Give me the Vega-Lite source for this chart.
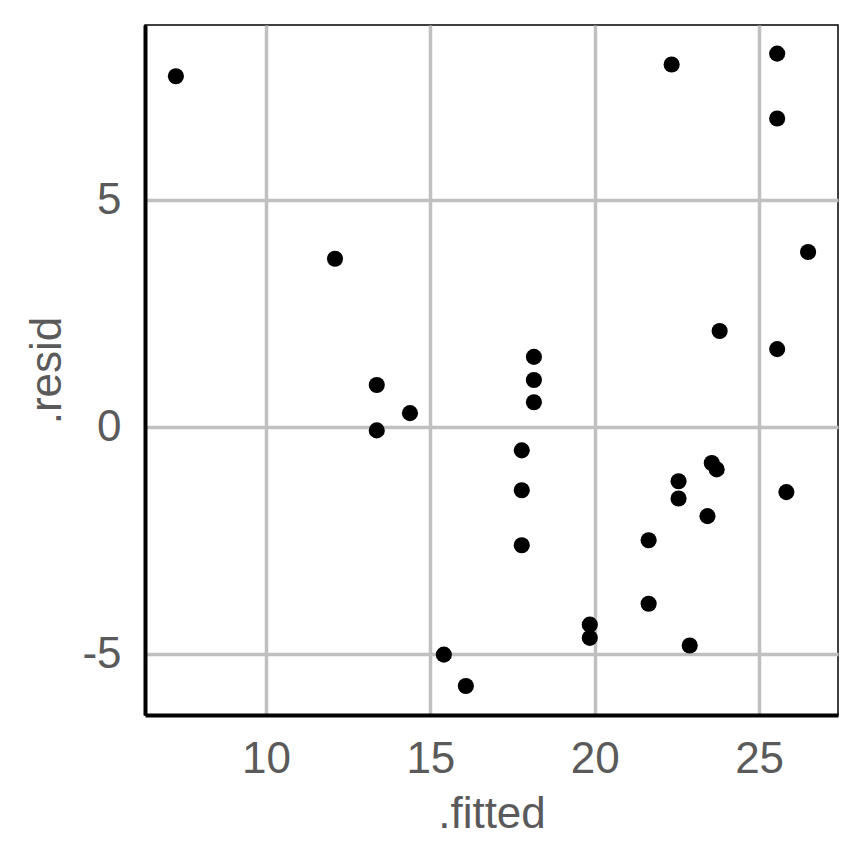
{
  "$schema": "https://vega.github.io/schema/vega-lite/v6.json",
  "description": "Residuals against fitted values.",
  "autosize": "none",
  "padding": {"left": 145, "top": 25, "right": 26, "bottom": 149},
  "width": 693,
  "height": 690,
  "data": {
    "values": [
      {"fitted": 7.26, "resid": 7.73},
      {"fitted": 12.10, "resid": 3.71},
      {"fitted": 13.37, "resid": 0.93},
      {"fitted": 13.37, "resid": -0.07},
      {"fitted": 14.38, "resid": 0.31},
      {"fitted": 15.41, "resid": -5.01},
      {"fitted": 16.08, "resid": -5.70},
      {"fitted": 17.78, "resid": -0.51},
      {"fitted": 17.78, "resid": -1.39},
      {"fitted": 17.78, "resid": -2.60},
      {"fitted": 18.15, "resid": 1.55},
      {"fitted": 18.15, "resid": 1.04},
      {"fitted": 18.15, "resid": 0.55},
      {"fitted": 19.85, "resid": -4.35},
      {"fitted": 19.85, "resid": -4.64},
      {"fitted": 21.64, "resid": -2.49},
      {"fitted": 21.64, "resid": -3.89},
      {"fitted": 22.34, "resid": 7.99},
      {"fitted": 22.55, "resid": -1.19},
      {"fitted": 22.55, "resid": -1.57},
      {"fitted": 22.89, "resid": -4.81},
      {"fitted": 23.43, "resid": -1.96},
      {"fitted": 23.56, "resid": -0.79},
      {"fitted": 23.71, "resid": -0.93},
      {"fitted": 23.80, "resid": 2.12},
      {"fitted": 25.55, "resid": 8.23},
      {"fitted": 25.55, "resid": 6.80},
      {"fitted": 25.55, "resid": 1.72},
      {"fitted": 25.83, "resid": -1.43},
      {"fitted": 26.49, "resid": 3.86}
    ]
  },
  "mark": {"type": "circle", "size": 260, "color": "black", "opacity": 1},
  "encoding": {
    "x": {
      "field": "fitted",
      "type": "quantitative",
      "title": ".fitted",
      "scale": {"domain": [6.32, 27.40], "nice": false, "zero": false},
      "axis": {"values": [10, 15, 20, 25], "labelPadding": 22, "titlePadding": 11}
    },
    "y": {
      "field": "resid",
      "type": "quantitative",
      "title": ".resid",
      "scale": {"domain": [-6.34, 8.86], "nice": false, "zero": false},
      "axis": {
        "values": [-5, 0, 5],
        "labelPadding": 24,
        "titlePadding": 12,
        "labelExpr": "replace(datum.label, '\u2212', '-')"
      }
    }
  },
  "config": {
    "background": "white",
    "font": "Liberation Sans",
    "view": {"stroke": "black", "strokeWidth": 1.5},
    "axis": {
      "domainColor": "black",
      "domainWidth": 4,
      "ticks": false,
      "gridColor": "#C0C0C0",
      "gridWidth": 3.5,
      "labelFont": "Liberation Sans",
      "labelFontSize": 44,
      "labelColor": "#5A5A5A",
      "titleFont": "Liberation Sans",
      "titleFontSize": 44,
      "titleFontWeight": "normal",
      "titleColor": "#5A5A5A"
    }
  }
}
